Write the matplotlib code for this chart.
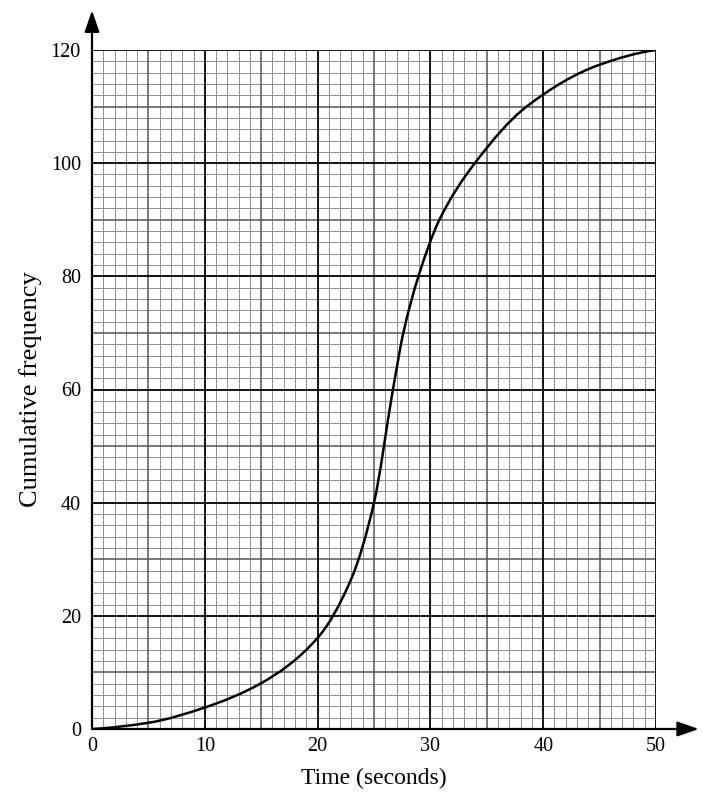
import matplotlib
matplotlib.use("Agg")
import matplotlib.pyplot as plt
from matplotlib.path import Path
from matplotlib.patches import PathPatch
import numpy as np

time_s = [0, 5, 10, 15, 20, 23.0, 25, 26.68, 27.6, 28.94, 30.8, 33.94, 38.53, 45, 50]
cum_freq = [0, 1.1, 3.8, 8.1, 16.1, 26.6, 40, 60, 70, 80, 90, 100, 110, 117.4, 120]
x_ticks = [0, 10, 20, 30, 40, 50]
y_ticks = [0, 20, 40, 60, 80, 100, 120]

plt.rcParams['font.family'] = ['Liberation Serif', 'DejaVu Serif']

fig = plt.figure(figsize=(7.03, 8.01), dpi=100)
ax = fig.add_axes([92/703, (801-729)/801, 564/703, 679/801])
ax.set_xlim(0, 50)
ax.set_ylim(0, 120)

# grid
for v in np.arange(0, 51, 1):
    if v % 10 == 0:
        c, lw, z = 'black', 1.3, 3
    elif v % 5 == 0:
        c, lw, z = '#555555', 1.1, 2
    else:
        c, lw, z = '#8f8f8f', 0.7, 1
    ax.axvline(v, color=c, lw=lw, zorder=z)
for v in np.arange(0, 121, 2):
    if v % 20 == 0:
        c, lw, z = 'black', 1.3, 3
    elif v % 10 == 0:
        c, lw, z = '#555555', 1.1, 2
    else:
        c, lw, z = '#8f8f8f', 0.7, 1
    ax.axhline(v, color=c, lw=lw, zorder=z)

# smooth curve through the read points (monotone cubic drawn as Bezier path)
xs = np.asarray(time_s, float)
ys = np.asarray(cum_freq, float)
h = np.diff(xs)
d = np.diff(ys) / h
m = np.zeros_like(ys)
m[0], m[-1] = d[0] * 0.5, d[-1] * 0.5
for i in range(1, len(xs) - 1):
    if d[i - 1] * d[i] <= 0:
        m[i] = 0
    else:
        w1 = 2 * h[i] + h[i - 1]
        w2 = h[i] + 2 * h[i - 1]
        m[i] = (w1 + w2) / (w1 / d[i - 1] + w2 / d[i])
verts = [(xs[0], ys[0])]
codes = [Path.MOVETO]
for i in range(len(xs) - 1):
    verts += [(xs[i] + h[i] / 3, ys[i] + m[i] * h[i] / 3),
              (xs[i + 1] - h[i] / 3, ys[i + 1] - m[i + 1] * h[i] / 3),
              (xs[i + 1], ys[i + 1])]
    codes += [Path.CURVE4] * 3
ax.add_patch(PathPatch(Path(verts, codes), facecolor='none', edgecolor='black',
                       lw=1.8, zorder=5, capstyle='round'))

for s in ax.spines.values():
    s.set_visible(False)

ax.set_xticks(x_ticks)
ax.set_yticks(y_ticks)
ax.set_xticklabels([str(t) for t in x_ticks], fontsize=14.5)
ax.set_yticklabels([str(t) for t in y_ticks], fontsize=14.5)
ax.tick_params(axis='y', length=0, pad=8)
ax.tick_params(axis='x', length=0, pad=6)

# axis arrows
ax.annotate('', xy=(53.8, 0), xytext=(0, 0), xycoords='data',
            arrowprops=dict(arrowstyle='-|>,head_length=1.3,head_width=0.45',
                            color='black', lw=1.6, shrinkA=0, shrinkB=0),
            annotation_clip=False, zorder=6)
ax.annotate('', xy=(0, 127.0), xytext=(0, 0), xycoords='data',
            arrowprops=dict(arrowstyle='-|>,head_length=1.3,head_width=0.45',
                            color='black', lw=1.6, shrinkA=0, shrinkB=0),
            annotation_clip=False, zorder=6)

ax.set_xlabel('Time (seconds)', fontsize=17, labelpad=8)
ax.set_ylabel('Cumulative frequency', fontsize=19, labelpad=6)

fig.savefig('out.png', dpi=100)
